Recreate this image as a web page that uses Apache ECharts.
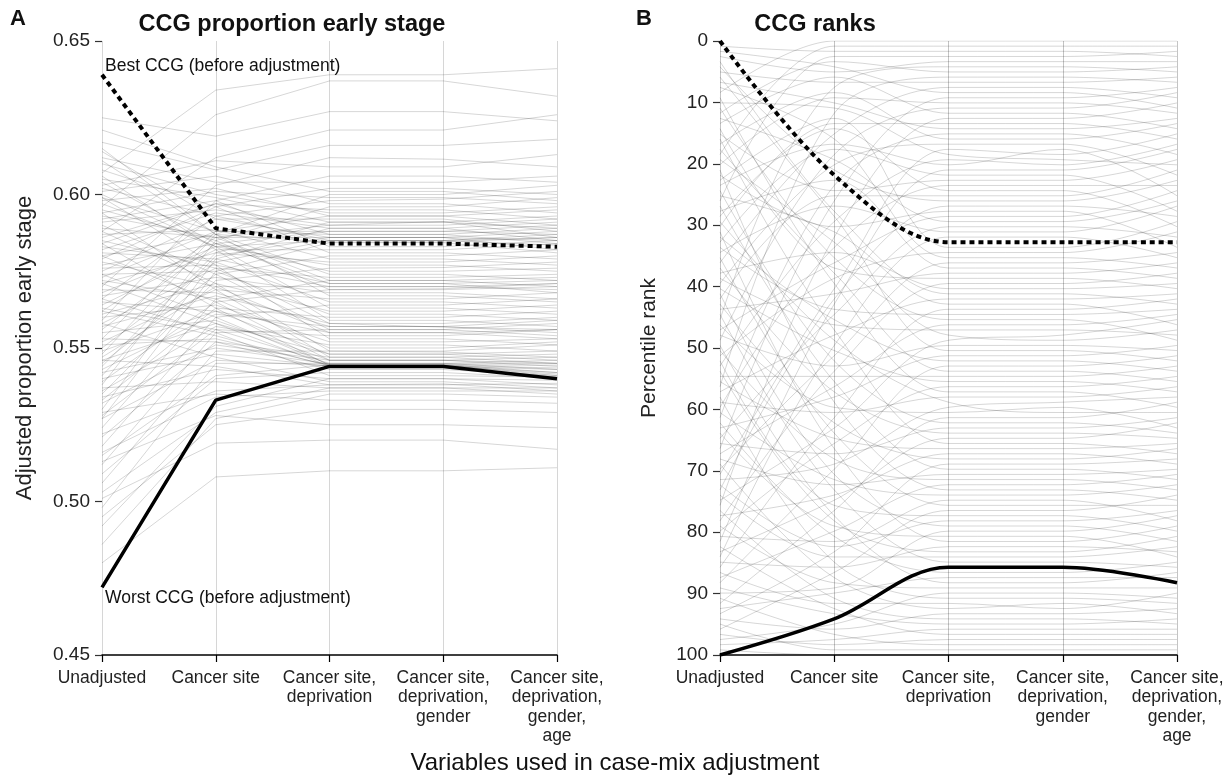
<!DOCTYPE html>
<html>
<head>
<meta charset="utf-8">
<title>CCG proportion early stage and ranks</title>
<script src="https://cdn.jsdelivr.net/npm/echarts@6/dist/echarts.min.js"></script>
<style>
  html, body { margin: 0; padding: 0; background: #fff; }
  #chart { width: 1231px; height: 779px; }
</style>
</head>
<body>
<div id="chart"></div>
<script>
// x categories (adjustment steps)
var categories = ['Unadjusted', 'Cancer site', 'Cancer site,\ndeprivation',
  'Cancer site,\ndeprivation,\ngender', 'Cancer site,\ndeprivation,\ngender,\nage'];

// highlighted CCGs
var bestCcg = [0.639, 0.589, 0.584, 0.584, 0.583];
var worstCcg = [0.472, 0.533, 0.544, 0.544, 0.540];

// all other CCGs, one array per adjustment step (same CCG order in each)
var unadjusted = [
  0.607, 0.596, 0.625, 0.588, 0.617, 0.570, 0.603, 0.559, 0.612, 0.579,
  0.621, 0.548, 0.594, 0.566, 0.601, 0.538, 0.584, 0.610, 0.553, 0.598,
  0.575, 0.544, 0.605, 0.562, 0.591, 0.530, 0.582, 0.599, 0.556, 0.586,
  0.573, 0.614, 0.541, 0.593, 0.568, 0.602, 0.550, 0.580, 0.527,
  0.592, 0.564, 0.608, 0.545, 0.587, 0.571, 0.600, 0.535, 0.577, 0.615,
  0.558, 0.589, 0.524, 0.581, 0.604, 0.547, 0.576, 0.595, 0.539, 0.567,
  0.611, 0.552, 0.583, 0.518, 0.597, 0.561, 0.574, 0.533, 0.606, 0.557,
  0.585, 0.543, 0.569, 0.512, 0.590, 0.549, 0.578, 0.528, 0.599, 0.560,
  0.536, 0.572, 0.506, 0.588, 0.546, 0.565, 0.521, 0.594, 0.555, 0.532,
  0.580, 0.498, 0.563, 0.542, 0.574, 0.515, 0.551, 0.584, 0.527, 0.562,
  0.540, 0.571,
  0.553, 0.509, 0.566, 0.534, 0.492, 0.558, 0.522,
  0.546, 0.503, 0.537, 0.516, 0.486, 0.529, 0.495, 0.513, 0.501, 0.480
];
var cancerSite = [
  0.634, 0.626, 0.619, 0.612, 0.608, 0.603, 0.611, 0.598, 0.604, 0.596,
  0.609, 0.587, 0.601, 0.593, 0.606, 0.585, 0.597, 0.600, 0.588, 0.602,
  0.592, 0.581, 0.599, 0.586, 0.595, 0.579, 0.594, 0.588, 0.584, 0.597,
  0.588, 0.592, 0.580, 0.586, 0.583, 0.593, 0.578, 0.587, 0.575,
  0.598, 0.582, 0.596, 0.574, 0.5885, 0.581, 0.583, 0.572, 0.584, 0.587,
  0.576, 0.586, 0.566, 0.579, 0.584, 0.570, 0.577, 0.585, 0.565, 0.573,
  0.587, 0.569, 0.578, 0.560, 0.583, 0.571, 0.575, 0.563, 0.582, 0.567,
  0.576, 0.561, 0.568, 0.555, 0.574, 0.562, 0.570, 0.556, 0.577, 0.564,
  0.557, 0.566, 0.549, 0.571, 0.558, 0.562, 0.552, 0.569, 0.559, 0.551,
  0.565, 0.545, 0.556, 0.550, 0.560, 0.541, 0.553, 0.563, 0.546, 0.554,
  0.548, 0.558,
  0.552, 0.540, 0.555, 0.543, 0.531, 0.547, 0.536,
  0.544, 0.529, 0.539, 0.534, 0.527, 0.535, 0.525, 0.528, 0.519, 0.508
];
var deprivation = [
  0.639, 0.637, 0.627, 0.621, 0.616, 0.612, 0.609, 0.606, 0.604, 0.602,
  0.601, 0.600, 0.599, 0.598, 0.597, 0.596, 0.595, 0.594, 0.593, 0.593,
  0.592, 0.591, 0.591, 0.590, 0.590, 0.589, 0.589, 0.588, 0.588, 0.587,
  0.587, 0.586, 0.586, 0.586, 0.585, 0.585, 0.585, 0.5845, 0.5843,
  0.583, 0.582, 0.581, 0.580, 0.579, 0.578, 0.577, 0.576, 0.575, 0.574,
  0.573, 0.572, 0.572, 0.571, 0.571, 0.570, 0.570, 0.569, 0.569, 0.568,
  0.567, 0.566, 0.565, 0.564, 0.563, 0.562, 0.561, 0.560, 0.559, 0.558,
  0.558, 0.557, 0.557, 0.556, 0.556, 0.555, 0.555, 0.554, 0.553, 0.552,
  0.551, 0.550, 0.549, 0.549, 0.548, 0.548, 0.547, 0.547, 0.546, 0.546,
  0.546, 0.545, 0.545, 0.5448, 0.5446, 0.5445, 0.5444, 0.5443, 0.5442, 0.5441,
  0.5441, 0.5441,
  0.543, 0.542, 0.541, 0.540, 0.540, 0.539, 0.538,
  0.538, 0.537, 0.537, 0.536, 0.535, 0.533, 0.530, 0.525, 0.520, 0.510
];
var gender = [
  0.639, 0.637, 0.627, 0.621, 0.616, 0.6115, 0.609, 0.606, 0.604, 0.602,
  0.601, 0.600, 0.599, 0.5985, 0.597, 0.596, 0.595, 0.594, 0.593, 0.593,
  0.592, 0.591, 0.591, 0.590, 0.5912, 0.589, 0.589, 0.588, 0.588, 0.587,
  0.587, 0.586, 0.586, 0.586, 0.585, 0.585, 0.585, 0.5845, 0.5843,
  0.583, 0.582, 0.581, 0.580, 0.579, 0.578, 0.577, 0.5762, 0.575, 0.574,
  0.573, 0.572, 0.572, 0.571, 0.571, 0.570, 0.570, 0.569, 0.5693, 0.568,
  0.567, 0.566, 0.565, 0.564, 0.563, 0.562, 0.561, 0.560, 0.559, 0.558,
  0.5568, 0.557, 0.557, 0.556, 0.556, 0.555, 0.555, 0.554, 0.553, 0.552,
  0.551, 0.550, 0.549, 0.5487, 0.548, 0.548, 0.547, 0.547, 0.546, 0.546,
  0.546, 0.545, 0.545, 0.5448, 0.5446, 0.5445, 0.5444, 0.5443, 0.5442, 0.5441,
  0.5441, 0.5441,
  0.543, 0.542, 0.541, 0.540, 0.540, 0.539, 0.538,
  0.5383, 0.537, 0.537, 0.536, 0.535, 0.533, 0.530, 0.525, 0.520, 0.510
];
var age = [
  0.641, 0.632, 0.624, 0.626, 0.618, 0.609, 0.613, 0.604, 0.606, 0.600,
  0.598, 0.603, 0.597, 0.601, 0.594, 0.599, 0.592, 0.596, 0.590, 0.595,
  0.588, 0.593, 0.589, 0.592, 0.586, 0.591, 0.585, 0.590, 0.587, 0.584,
  0.589, 0.588, 0.585, 0.582, 0.587, 0.586, 0.5835, 0.586, 0.581,
  0.585, 0.584, 0.579, 0.582, 0.577, 0.580, 0.575, 0.578, 0.576, 0.572,
  0.574, 0.570, 0.573, 0.572, 0.568, 0.571, 0.569, 0.570, 0.571, 0.566,
  0.565, 0.568, 0.563, 0.566, 0.561, 0.564, 0.559, 0.562, 0.557, 0.560,
  0.556, 0.559, 0.555, 0.558, 0.554, 0.556, 0.553, 0.556, 0.551, 0.553,
  0.549, 0.552, 0.551, 0.547, 0.549, 0.546, 0.548, 0.545, 0.547, 0.544,
  0.545, 0.546, 0.543, 0.545, 0.542, 0.5444, 0.541, 0.5435, 0.5415, 0.543,
  0.542, 0.5405,
  0.541, 0.5402, 0.5405, 0.5395, 0.538, 0.537, 0.5385,
  0.536, 0.537, 0.535, 0.536, 0.534, 0.532, 0.529, 0.524, 0.517, 0.511
];

var yTicksA = { min: 0.45, max: 0.65, interval: 0.05 };
var yTicksB = { min: 0, max: 100, interval: 10 };

// ---- build per-CCG rows and percentile ranks (0 = highest proportion)
var stages = [unadjusted, cancerSite, deprivation, gender, age];
var rows = [];
for (var i = 0; i < unadjusted.length; i++) {
  rows.push(stages.map(function (s) { return s[i]; }));
}
rows.push(bestCcg);
rows.push(worstCcg);
var n = rows.length;
var ranks = rows.map(function () { return []; });
for (var k = 0; k < stages.length; k++) {
  var order = rows.map(function (r, idx) { return idx; });
  order.sort(function (a, b) { return rows[b][k] - rows[a][k]; });
  order.forEach(function (idx, pos) { ranks[idx][k] = pos / (n - 1) * 100; });
}
var bestIdx = n - 2, worstIdx = n - 1;

var font = 'Liberation Sans, Arial, Helvetica, sans-serif';
var gray = 'rgba(0,0,0,0.16)';

function thinLine(data, g, smooth) {
  return {
    type: 'line', xAxisIndex: g, yAxisIndex: g, data: data,
    symbol: 'none', smooth: smooth ? 0.35 : false,
    lineStyle: { color: gray, width: 1 }, silent: true, z: 2
  };
}
function boldLine(data, g, smooth, dashed) {
  return {
    type: 'line', xAxisIndex: g, yAxisIndex: g, data: data,
    symbol: 'none', smooth: smooth ? 0.35 : false,
    lineStyle: { color: '#000', width: dashed ? 4 : 3.5, type: dashed ? [5, 4] : 'solid', cap: 'butt' },
    silent: true, z: 5
  };
}

var series = [];
for (var r = 0; r < n - 2; r++) {
  series.push(thinLine(rows[r], 0, false));
  series.push(thinLine(ranks[r], 1, true));
}
series.push(boldLine(bestCcg, 0, false, true));
series.push(boldLine(worstCcg, 0, false, false));
series.push(boldLine(ranks[bestIdx], 1, true, true));
series.push(boldLine(ranks[worstIdx], 1, true, false));

function xAxis(g) {
  return {
    type: 'category', gridIndex: g, data: categories, boundaryGap: false, position: 'bottom',
    axisLine: { onZero: false, lineStyle: { color: '#000', width: 1.5 } },
    axisTick: { length: 7, lineStyle: { color: '#000', width: 1.2 } },
    axisLabel: { interval: 0, fontSize: 17.5, lineHeight: 19.5, color: '#222', margin: 13, fontFamily: font },
    splitLine: { show: true, lineStyle: { color: g === 0 ? '#d6d6d6' : '#c4c4c4', width: 1 } }
  };
}
function yAxis(g, ticks, name, gap, size, inverse, fmt) {
  return {
    type: 'value', gridIndex: g, min: ticks.min, max: ticks.max, interval: ticks.interval,
    inverse: inverse,
    axisLine: { show: false },
    axisTick: { show: true, length: 7, lineStyle: { color: '#333', width: 1.2 } },
    axisLabel: { fontSize: 19, color: '#222', margin: 12, fontFamily: font, formatter: fmt },
    splitLine: { show: false },
    name: name, nameLocation: 'middle', nameGap: gap, nameRotate: 90,
    nameTextStyle: { fontSize: size, color: '#222', fontFamily: font }
  };
}

var chart = echarts.init(document.getElementById('chart'));
chart.setOption({
  animation: false,
  backgroundColor: '#fff',
  textStyle: { fontFamily: font },
  grid: [
    { left: 102, right: 674, top: 41, bottom: 124 },
    { left: 720, right: 54, top: 41, bottom: 124 }
  ],
  xAxis: [xAxis(0), xAxis(1)],
  yAxis: [
    yAxis(0, yTicksA, 'Adjusted proportion early stage', 66, 22, false, function (v) { return v.toFixed(2); }),
    yAxis(1, yTicksB, 'Percentile rank', 60, 21, true, function (v) { return String(Math.round(v)); })
  ],
  series: series
});

// annotation text anchored to the highlighted CCGs' first points
var pBest = chart.convertToPixel({ gridIndex: 0 }, [0, bestCcg[0]]);
var pWorst = chart.convertToPixel({ gridIndex: 0 }, [0, worstCcg[0]]);

function txt(s, x, y, size, bold, align) {
  return {
    type: 'text', z: 10, silent: true,
    style: {
      text: s, x: x, y: y, fill: '#111', textAlign: align || 'left', textVerticalAlign: 'middle',
      font: (bold ? 'bold ' : '') + size + 'px ' + font
    }
  };
}

chart.setOption({
  graphic: [
    txt('A', 10, 19, 22, true),
    txt('CCG proportion early stage', 292, 25, 23.5, true, 'center'),
    txt('B', 636, 19, 22, true),
    txt('CCG ranks', 815, 25, 23.5, true, 'center'),
    txt('Variables used in case-mix adjustment', 615, 763, 24, false, 'center'),
    txt('Best CCG (before adjustment)', pBest[0] + 3, pBest[1] - 9, 17.5, false),
    txt('Worst CCG (before adjustment)', pWorst[0] + 3, pWorst[1] + 11, 17.5, false)
  ]
});
</script>
</body>
</html>
